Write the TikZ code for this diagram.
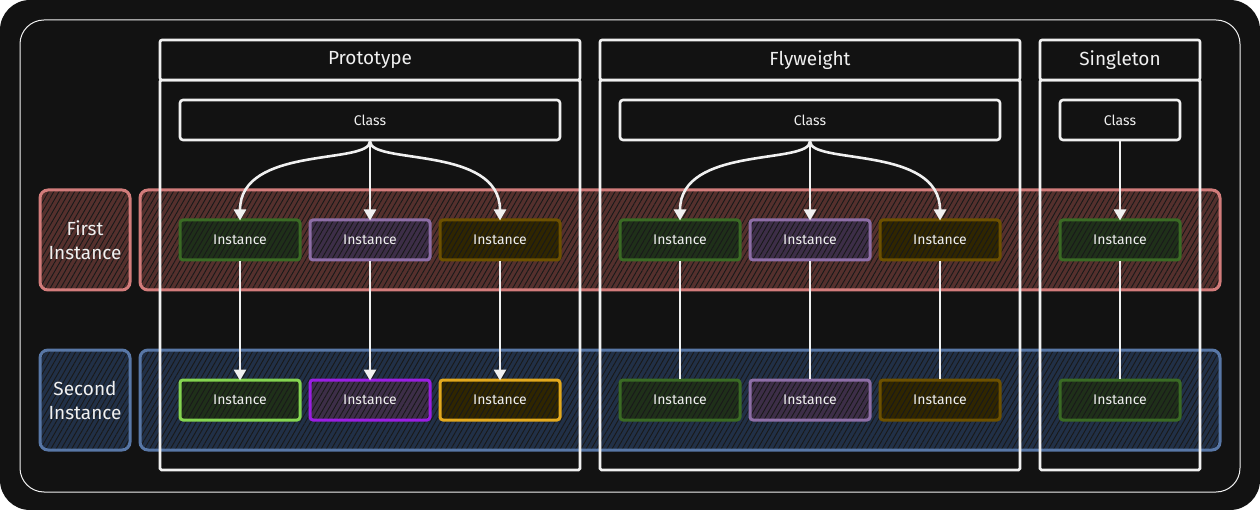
\documentclass[tikz,border=0pt]{standalone}
\usepackage{fontspec}
\setmainfont{Fira Sans}
\usetikzlibrary{patterns.meta,arrows.meta}
\definecolor{bg}{HTML}{121212}
\definecolor{fg}{HTML}{F0F0F0}
\definecolor{redB}{HTML}{D27C7B}
\definecolor{redF}{HTML}{55302D}
\definecolor{bluB}{HTML}{5877A6}
\definecolor{bluF}{HTML}{213047}
\definecolor{grnB}{HTML}{3A6A24}
\definecolor{grnF}{HTML}{1F3019}
\definecolor{purB}{HTML}{8D6EA6}
\definecolor{purF}{HTML}{3D2E48}
\definecolor{brnB}{HTML}{6C5000}
\definecolor{brnF}{HTML}{302600}
\definecolor{lgrB}{HTML}{84D450}
\definecolor{vioB}{HTML}{9A1EE2}
\definecolor{yelB}{HTML}{E2A91E}
\tikzset{
  hatch/.style={preaction={fill=#1}, pattern={Lines[angle=60,distance=4.5pt,line width=0.9pt]}, pattern color=black!90},
  band/.style={draw=#1, line width=3pt, rounded corners=8pt},
  lbl/.style={draw, line width=3pt, rounded corners=8pt, minimum width=90pt, minimum height=100pt, text=fg, align=center, font=\fontsize{19}{24}\selectfont},
  col/.style={draw=fg, line width=2.6pt, rounded corners=1.5pt},
  head/.style={draw=fg, line width=2.6pt, rounded corners=2pt, fill=bg, text=fg, font=\fontsize{19}{21}\selectfont},
  cls/.style={draw=fg, line width=2.6pt, rounded corners=3pt, fill=bg, text=fg, minimum height=40pt, font=\fontsize{14}{16}\selectfont},
  inst/.style={draw=#1, line width=3pt, rounded corners=3pt, minimum width=120pt, minimum height=40pt, text=fg, font=\fontsize{14}{16}\selectfont},
  conn/.style={draw=fg, line width=2.6pt},
  arr/.style={conn, -{Triangle[length=11pt,width=12pt]}},
}
\begin{document}
\begin{tikzpicture}[x=1pt,y=-1pt]
\useasboundingbox (0,0) rectangle (1260,510);
\fill[white] (0,0) rectangle (1260,510);
\fill[bg, rounded corners=30pt] (0,0) rectangle (1260,510);
\draw[fg, line width=1pt, rounded corners=24pt] (20,20) rectangle (1240,492);

% bands
\draw[band=redB, hatch=redF] (140,190) rectangle (1220,290);
\draw[band=bluB, hatch=bluF] (140,350) rectangle (1220,450);
\node[lbl, draw=redB, hatch=redF] (first) at (85,240) {First\\Instance};
\node[lbl, draw=bluB, hatch=bluF] (second) at (85,400) {Second\\Instance};

% columns
\draw[col] (160,80) rectangle (580,470);
\draw[col] (600,80) rectangle (1020,470);
\draw[col] (1040,80) rectangle (1200,470);
\node[head, minimum width=420pt, minimum height=40pt] (hp) at (370,60) {Prototype};
\node[head, minimum width=420pt, minimum height=40pt] (hf) at (810,60) {Flyweight};
\node[head, minimum width=160pt, minimum height=40pt] (hs) at (1120,60) {Singleton};

% classes
\node[cls, minimum width=380pt] (cp) at (370,120) {Class};
\node[cls, minimum width=380pt] (cf) at (810,120) {Class};
\node[cls, minimum width=120pt] (cs) at (1120,120) {Class};

% instances row 1
\node[inst=grnB, hatch=grnF] (p1) at (240,240) {Instance};
\node[inst=purB, hatch=purF] (p2) at (370,240) {Instance};
\node[inst=brnB, hatch=brnF] (p3) at (500,240) {Instance};
\node[inst=grnB, hatch=grnF] (f1) at (680,240) {Instance};
\node[inst=purB, hatch=purF] (f2) at (810,240) {Instance};
\node[inst=brnB, hatch=brnF] (f3) at (940,240) {Instance};
\node[inst=grnB, hatch=grnF] (s1) at (1120,240) {Instance};
% instances row 2
\node[inst=lgrB, hatch=grnF] (p4) at (240,400) {Instance};
\node[inst=vioB, hatch=purF] (p5) at (370,400) {Instance};
\node[inst=yelB, hatch=brnF] (p6) at (500,400) {Instance};
\node[inst=grnB, hatch=grnF] (f4) at (680,400) {Instance};
\node[inst=purB, hatch=purF] (f5) at (810,400) {Instance};
\node[inst=brnB, hatch=brnF] (f6) at (940,400) {Instance};
\node[inst=grnB, hatch=grnF] (s2) at (1120,400) {Instance};

% connectors
\draw[arr] (cp.south) .. controls (370,165) and (240,145) .. ([yshift=-2pt]p1.north);
\draw[arr] (cp.south) -- ([yshift=-2pt]p2.north);
\draw[arr] (cp.south) .. controls (370,165) and (500,145) .. ([yshift=-2pt]p3.north);
\draw[arr] (cf.south) .. controls (810,165) and (680,145) .. ([yshift=-2pt]f1.north);
\draw[arr] (cf.south) -- ([yshift=-2pt]f2.north);
\draw[arr] (cf.south) .. controls (810,165) and (940,145) .. ([yshift=-2pt]f3.north);
\draw[arr] (cs.south) -- ([yshift=-2pt]s1.north);

\draw[arr] (p1.south) -- ([yshift=-2pt]p4.north);
\draw[arr] (p2.south) -- ([yshift=-2pt]p5.north);
\draw[arr] (p3.south) -- ([yshift=-2pt]p6.north);
\draw[conn] (f1.south) -- (f4.north);
\draw[conn] (f2.south) -- (f5.north);
\draw[conn] (f3.south) -- (f6.north);
\draw[conn] (s1.south) -- (s2.north);
\end{tikzpicture}
\end{document}
